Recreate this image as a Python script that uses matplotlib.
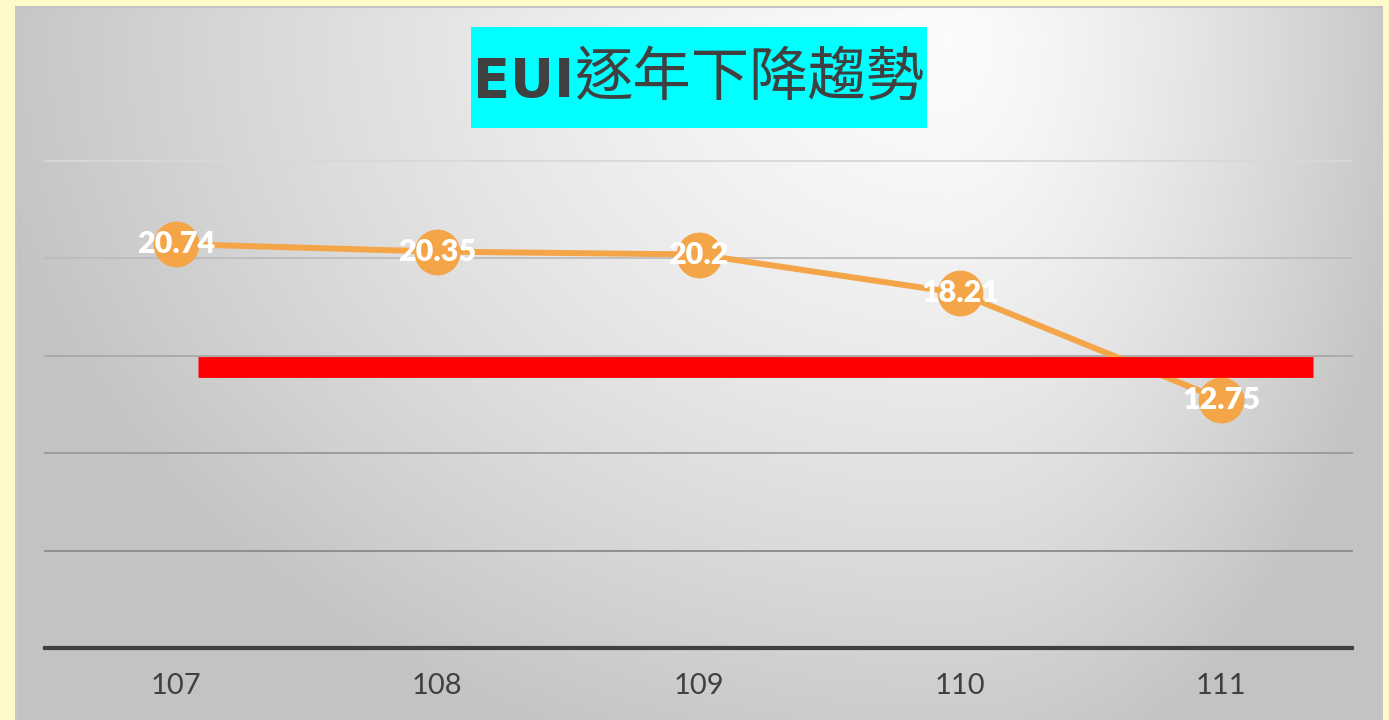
import numpy as np
import matplotlib
matplotlib.use("Agg")
import matplotlib.pyplot as plt
from matplotlib.patches import Rectangle

# ---- data ----
years = ["107", "108", "109", "110", "111"]
eui = [20.74, 20.35, 20.2, 18.21, 12.75]
eui_labels = ["20.74", "20.35", "20.2", "18.21", "12.75"]
target_value = 14.45
y_ticks = [0, 5, 10, 15, 20, 25]
title_latin = "EUI"
title_cjk = "逐年下降趨勢"

W, H = 1389, 720
fig = plt.figure(figsize=(W / 100, H / 100), dpi=100)
fig.patch.set_facecolor("#FFFBC8")

# ---- gradient panel ----
px0, px1, py0, py1 = 15, 1383, 6, 720
bg = fig.add_axes([px0 / W, 0, (px1 - px0) / W, (H - py0) / H])
bg.set_axis_off()
xs = np.arange(px0, px1)
ys = np.arange(py0, py1)
X, Y = np.meshgrid(xs, ys)
cx, cy = 950, 40
dx = X - cx
sx = np.where(dx < 0, 980.0, 470.0)
t = np.sqrt((dx / sx) ** 2 + ((Y - cy) / 770.0) ** 2)
t = np.clip(t, 0, 1) ** 1.4
c0, c1 = 0.985, 0.765
val = c0 + (c1 - c0) * t
img = np.dstack([val, val, val])
bg.imshow(img, aspect="auto", extent=[0, 1, 0, 1], interpolation="bilinear")
bg.set_xlim(0, 1)
bg.set_ylim(0, 1)
bg.plot([0, 1], [0.999, 0.999], color="#c2c2c2", lw=1.5)
bg.plot([0.0005, 0.0005], [0, 1], color="#c8c8c8", lw=1.2)
bg.plot([0.9995, 0.9995], [0, 1], color="#c8c8c8", lw=1.2)

# ---- chart axes ----
ax_l, ax_r, ax_b, ax_t = 45, 1352, 648, 161
ax = fig.add_axes([ax_l / W, (H - ax_b) / H, (ax_r - ax_l) / W, (ax_b - ax_t) / H])
ax.patch.set_alpha(0)
ax.set_xlim(-0.5, len(years) - 0.5)
ax.set_ylim(0, 25)
for s in ax.spines.values():
    s.set_visible(False)
ax.set_yticks([])
ax.set_xticks(range(len(years)))
ax.set_xticklabels(years, fontsize=21, color="#404040", family=["Lato", "DejaVu Sans"])
ax.tick_params(axis="x", length=0, pad=18)

grid_colors = {5: "#8a8a8a", 10: "#989898", 15: "#a8a8a8", 20: "#bcbcbc", 25: "#d8d8d8"}
for v in y_ticks[1:]:
    ax.axhline(v, color=grid_colors[v], lw=1.3, zorder=1, clip_on=False)
ax.axhline(0, color="#404040", lw=3, zorder=2, clip_on=False)

xi = np.arange(len(years))
ax.plot(xi, eui, color="#F4A548", lw=4.3, zorder=3, solid_capstyle="round")
ax.plot(xi, eui, "o", color="#F4A548", ms=32, zorder=4, clip_on=False)
ax.hlines(target_value, 0.085, 4.351, color="#FF0000", lw=15, zorder=5)
for x, v, lab in zip(xi, eui, eui_labels):
    ax.text(x, v, lab, ha="center", va="center", fontsize=22, fontweight="heavy",
            color="white", family=["Lato", "DejaVu Sans"], zorder=6)

# ---- title ----
fig.patches.append(Rectangle((471 / W, 1 - 128 / H), (927 - 471) / W, (128 - 27) / H,
                             transform=fig.transFigure, facecolor="#00FFFF",
                             edgecolor="none", zorder=10))
fig.text(473 / W, 1 - 82 / H, title_latin, ha="left", va="center", fontsize=39,
         fontweight="bold", color="#404040",
         family=["DejaVu Sans"], zorder=11)
fig.text(924 / W, 1 - 78 / H, title_cjk, ha="right", va="center", fontsize=42,
         fontweight="medium", color="#404040",
         family=["Noto Sans CJK TC", "DejaVu Sans"], zorder=11)

fig.savefig("out.png", dpi=100, facecolor=fig.get_facecolor())
